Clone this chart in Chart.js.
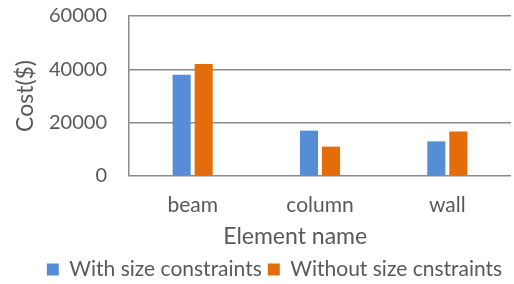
<!DOCTYPE html>
<html>
<head>
<meta charset="utf-8">
<script src="https://cdn.jsdelivr.net/npm/chart.js@4"></script>
<style>
  html, body { margin: 0; padding: 0; background: #fff; }
  #wrap { width: 514px; height: 284px; }
</style>
</head>
<body>
<div id="wrap"><canvas id="costChart"></canvas></div>
<script>
// element cost, with and without size constraints
const elements = ['beam', 'column', 'wall'];
const withConstraints = [38000, 17000, 13000];
const withoutConstraints = [42000, 11000, 16700];
const yTicks = [0, 20000, 40000, 60000];

const FONT = "Lato, 'Open Sans', sans-serif";
const TEXT = '#595959';
const GRID = '#8a8a8a';

// axis titles drawn by hand so they sit where the original puts them
// (x title is left of the plot centre, y title is left of the axis box)
const axisTitles = {
  id: 'axisTitles',
  afterDraw(chart) {
    const { ctx, chartArea, scales } = chart;
    ctx.save();
    ctx.fillStyle = TEXT;
    ctx.font = `23px ${FONT}`;
    ctx.textAlign = 'center';

    ctx.textBaseline = 'alphabetic';
    ctx.fillText('Element name', chartArea.left + chartArea.width * 0.435, scales.x.top + 68);

    ctx.translate(chartArea.left - 103, (chartArea.top + chartArea.bottom) / 2);
    ctx.rotate(-Math.PI / 2);
    ctx.textBaseline = 'middle';
    ctx.fillText('Cost($)', 0, 0);
    ctx.restore();
  }
};

new Chart(document.getElementById('costChart'), {
  type: 'bar',
  data: {
    labels: elements,
    datasets: [
      {
        label: 'With size constraints',
        data: withConstraints,
        backgroundColor: '#558ed5',
      },
      {
        label: 'Without size cnstraints',
        data: withoutConstraints,
        backgroundColor: '#e46c0a',
      }
    ]
  },
  plugins: [axisTitles],
  options: {
    responsive: true,
    maintainAspectRatio: false,
    animation: false,
    datasets: { bar: { categoryPercentage: 0.346, barPercentage: 0.82 } },
    layout: { padding: { top: 0, right: 3, left: 38, bottom: -6 } },
    plugins: {
      tooltip: { enabled: false },
      legend: {
        position: 'bottom',
        labels: {
          color: TEXT,
          font: { family: FONT, size: 21 },
          boxWidth: 12,
          boxHeight: 12,
          padding: 6,
        }
      }
    },
    scales: {
      x: {
        grid: { display: false, drawTicks: false },
        border: { display: false },
        ticks: { color: TEXT, font: { family: FONT, size: 21 }, padding: 17 },
        afterFit: axis => {
          axis.height = 77;
          axis.paddingLeft = 0;
          axis.paddingRight = 0;
        }
      },
      y: {
        min: 0,
        max: 60000,
        afterBuildTicks: axis => { axis.ticks = yTicks.map(v => ({ value: v })); },
        grid: { color: GRID, lineWidth: 1.5, drawTicks: false },
        border: { display: true, color: GRID, width: 1.5 },
        ticks: { color: TEXT, font: { family: FONT, size: 20 }, padding: 22, callback: v => String(v) },
        afterFit: axis => {
          axis.width = 91;
          axis.paddingTop = 16;
          axis.paddingBottom = 10;
        }
      }
    }
  }
});
</script>
</body>
</html>
